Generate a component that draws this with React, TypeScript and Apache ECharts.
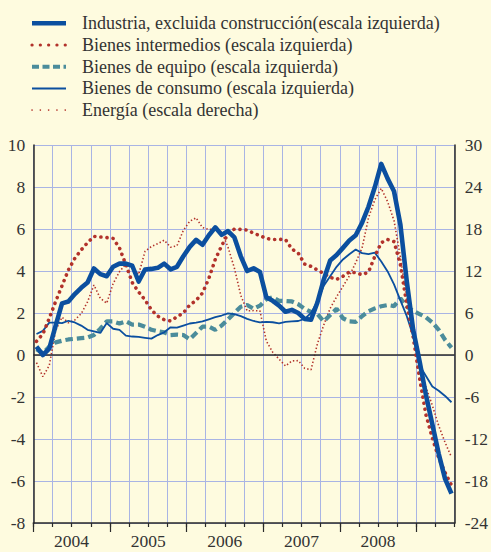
import React, { useEffect, useRef } from 'react';
import * as echarts from 'echarts';

// Monthly data, January 2004 – June 2009
const firstYear = 2004;
const yearLabels = ['2004', '2005', '2006', '2007', '2008'];
const leftTicks = { min: -8, max: 10, step: 2 };
const rightTicks = { min: -24, max: 30, step: 6 };

const seriesNames = [
  'Industria, excluida construcción(escala izquierda)',
  'Bienes intermedios (escala izquierda)',
  'Bienes de equipo (escala izquierda)',
  'Bienes de consumo (escala izquierda)',
  'Energía (escala derecha)',
];

const industria = [
  0.4, 0.0, 0.3, 1.4, 2.46, 2.55, 2.9, 3.2, 3.45, 4.12, 3.85, 3.75,
  4.2, 4.35, 4.35, 4.25, 3.5, 4.07, 4.1, 4.15, 4.35, 4.08, 4.2, 4.7,
  5.15, 5.48, 5.25, 5.7, 6.08, 5.72, 5.9, 5.6, 4.7, 4.0, 4.13, 3.95,
  2.75, 2.58, 2.35, 2.06, 2.15, 2.0, 1.72, 1.68, 2.5, 3.6, 4.5, 4.76,
  5.1, 5.45, 5.7, 6.3, 7.06, 8.0, 9.1, 8.4, 7.8, 6.2, 3.5, 1.2,
  -0.3, -1.9, -3.3, -4.7, -5.9, -6.6,
];

const intermedios = [
  0.65, 1.0, 1.75, 2.55, 3.3, 4.05, 4.6, 5.0, 5.35, 5.65, 5.62, 5.59,
  5.55, 5.1, 4.3, 3.45, 3.0, 2.62, 2.15, 1.85, 1.68, 1.62, 1.82, 2.0,
  2.38, 2.6, 2.95, 3.65, 4.55, 5.2, 5.78, 6.0, 5.98, 5.95, 5.8, 5.68,
  5.55, 5.5, 5.51, 5.5, 5.05, 4.85, 4.33, 4.22, 4.05, 3.88, 3.7, 3.6,
  3.75, 3.95, 3.92, 3.82, 3.95, 4.7, 5.35, 5.5, 5.4, 4.3, 2.4, 0.85,
  -1.1, -2.85, -3.95, -4.9, -5.6, -6.2,
];

const equipo = [
  0.27, 0.08, 0.4, 0.6, 0.68, 0.74, 0.77, 0.8, 0.83, 0.95, 1.25, 1.6,
  1.6, 1.5, 1.6, 1.45, 1.45, 1.35, 1.2, 1.13, 1.08, 0.95, 0.97, 0.95,
  0.75, 1.05, 1.35, 1.35, 1.2, 1.4, 1.7, 2.0, 2.3, 2.38, 2.2, 2.35,
  2.65, 2.75, 2.58, 2.57, 2.55, 2.42, 2.2, 2.05, 1.95, 1.6, 1.9, 2.2,
  1.75, 1.6, 1.58, 1.85, 2.08, 2.22, 2.32, 2.38, 2.33, 2.7, 2.3, 2.1,
  1.95, 1.8, 1.55, 1.2, 0.72, 0.35,
];

const consumo = [
  1.0, 1.15, 1.54, 1.54, 1.52, 1.63, 1.55, 1.4, 1.2, 1.13, 1.05, 1.52,
  1.25, 1.2, 0.92, 0.88, 0.86, 0.82, 0.78, 0.95, 1.08, 1.32, 1.3, 1.4,
  1.5, 1.54, 1.6, 1.7, 1.8, 1.88, 1.98, 1.95, 1.85, 1.72, 1.62, 1.55,
  1.58, 1.56, 1.51, 1.58, 1.6, 1.62, 1.72, 2.0, 2.55, 3.3, 3.75, 4.2,
  4.55, 4.8, 5.02, 4.85, 4.8, 4.87, 4.45, 3.98, 3.36, 2.6, 1.85, 0.9,
  -0.5, -1.0, -1.5, -1.7, -1.95, -2.25,
];

const energia = [
  -1.1, -3.1, -1.5, 3.5, 5.4, 4.6, 5.0, 5.9, 7.6, 10.0, 8.1, 7.4,
  10.2, 11.9, 13.0, 12.5, 11.5, 14.8, 15.5, 15.9, 16.4, 15.4, 15.6, 17.8,
  19.1, 19.6, 18.2, 17.95, 17.95, 17.6, 15.4, 12.4, 8.5, 6.3, 6.35, 6.3,
  2.0, 0.4, -0.6, -1.57, -0.85, -0.8, -1.9, -2.1, 1.6, 4.3, 6.67, 8.3,
  9.8, 11.3, 13.2, 15.3, 19.6, 22.2, 23.8, 21.9, 19.2, 14.0, 7.9, 3.5,
  -1.6, -4.6, -7.2, -10.1, -12.5, -14.6,
];

const MONTHS = 66;
const BLUE = '#0b4f9f';
const RED = '#b2322b';
const TEAL = '#4b8c9b';
const BG = '#fefbdf';
const GRID = '#a9b4e4';
const AXIS = '#2a2a2a';
const TEXT = '#333333';
const FONT = "'Liberation Serif', 'Times New Roman', serif";

const toPairs = (arr: number[]) => arr.map((v, i) => [i + 0.5, v]);

export default function App() {
  const ref = useRef<HTMLDivElement>(null);

  useEffect(() => {
    if (!ref.current) return;
    const chart = echarts.init(ref.current, null, { renderer: 'svg' });

    const legendStyles: any[] = [
      { stroke: BLUE, lineWidth: 4.5 },
      { stroke: RED, lineWidth: 3.2, lineDash: [0.1, 8.2], lineCap: 'round' },
      { stroke: TEAL, lineWidth: 4, lineDash: [7, 3.5] },
      { stroke: BLUE, lineWidth: 2 },
      { stroke: RED, lineWidth: 1.6, lineDash: [0.1, 8.2], lineCap: 'round' },
    ];
    const rowY = (k: number) => 23.3 + k * 21.7;
    const graphic: any[] = [];
    seriesNames.forEach((name, k) => {
      graphic.push({
        type: 'line',
        shape: { x1: 32, y1: rowY(k), x2: 66, y2: rowY(k) },
        style: { fill: null, ...legendStyles[k] },
        silent: true,
      });
      graphic.push({
        type: 'text',
        x: 82,
        y: rowY(k),
        style: {
          text: name,
          fill: TEXT,
          fontSize: 18,
          fontFamily: FONT,
          verticalAlign: 'middle',
        },
        silent: true,
      });
    });

    const yearTickValues = yearLabels.map((_, k) => k * 12).concat([yearLabels.length * 12]);
    const yearLabelValues = yearLabels.map((_, k) => k * 12 + 6);

    chart.setOption({
      animation: false,
      backgroundColor: BG,
      textStyle: { fontFamily: FONT },
      graphic,
      grid: { left: 33.3, right: 33, top: 145, bottom: 29, containLabel: false },
      xAxis: [
        {
          type: 'value',
          min: 0,
          max: MONTHS,
          interval: 3,
          axisLine: { show: true, onZero: false, lineStyle: { color: AXIS, width: 1.5 } },
          axisTick: { show: true, length: 4, lineStyle: { color: AXIS, width: 1.2 } },
          splitLine: { show: true, lineStyle: { color: GRID, width: 1 } },
          axisLabel: {
            customValues: yearLabelValues,
            formatter: (v: number) => String(firstYear + Math.round((v - 6) / 12)),
            fontSize: 17.5,
            fontFamily: FONT,
            color: TEXT,
            margin: 9,
          },
        },
        {
          type: 'value',
          min: 0,
          max: MONTHS,
          position: 'bottom',
          axisLine: { show: false, onZero: false },
          axisTick: {
            show: true,
            customValues: yearTickValues,
            length: 9,
            lineStyle: { color: AXIS, width: 1.2 },
          },
          splitLine: { show: false },
          axisLabel: { show: false },
        },
      ],
      yAxis: [
        {
          type: 'value',
          min: leftTicks.min,
          max: leftTicks.max,
          interval: leftTicks.step,
          axisLine: { show: true, onZero: false, lineStyle: { color: AXIS, width: 1.5 } },
          axisTick: { show: false },
          splitLine: { show: true, lineStyle: { color: GRID, width: 1 } },
          axisLabel: { fontSize: 17.5, fontFamily: FONT, color: TEXT, margin: 8 },
        },
        {
          type: 'value',
          min: rightTicks.min,
          max: rightTicks.max,
          interval: rightTicks.step,
          position: 'right',
          axisLine: { show: true, onZero: false, lineStyle: { color: AXIS, width: 1.5 } },
          axisTick: { show: false },
          splitLine: { show: false },
          axisLabel: { fontSize: 17.5, fontFamily: FONT, color: TEXT, margin: 10 },
        },
      ],
      series: [
        {
          name: seriesNames[4],
          type: 'line',
          yAxisIndex: 1,
          data: toPairs(energia),
          showSymbol: false,
          symbol: 'none',
          lineStyle: { color: RED, width: 1.6, type: [1.4, 2.2] },
          z: 2,
          markLine: {
            silent: true,
            symbol: ['none', 'none'],
            label: { show: false },
            lineStyle: { color: AXIS, width: 1.5, type: 'solid' },
            data: [{ yAxis: 0 }],
          },
        },
        {
          name: seriesNames[2],
          type: 'line',
          data: toPairs(equipo),
          showSymbol: false,
          symbol: 'none',
          lineStyle: { color: TEAL, width: 4.2, type: [7.5, 4] },
          z: 3,
        },
        {
          name: seriesNames[3],
          type: 'line',
          data: toPairs(consumo),
          showSymbol: false,
          symbol: 'none',
          lineStyle: { color: BLUE, width: 1.8 },
          z: 4,
        },
        {
          name: seriesNames[1],
          type: 'line',
          data: toPairs(intermedios),
          showSymbol: false,
          symbol: 'none',
          lineStyle: { color: RED, width: 3.6, type: [0.1, 6], cap: 'round' },
          z: 5,
        },
        {
          name: seriesNames[0],
          type: 'line',
          data: toPairs(industria),
          showSymbol: false,
          symbol: 'none',
          lineStyle: { color: BLUE, width: 4.6, join: 'round' },
          z: 6,
        },
      ],
    });

    return () => chart.dispose();
  }, []);

  return (
    <div
      ref={ref}
      style={{ position: 'fixed', left: 0, top: 0, width: 491, height: 552, background: BG }}
    />
  );
}
